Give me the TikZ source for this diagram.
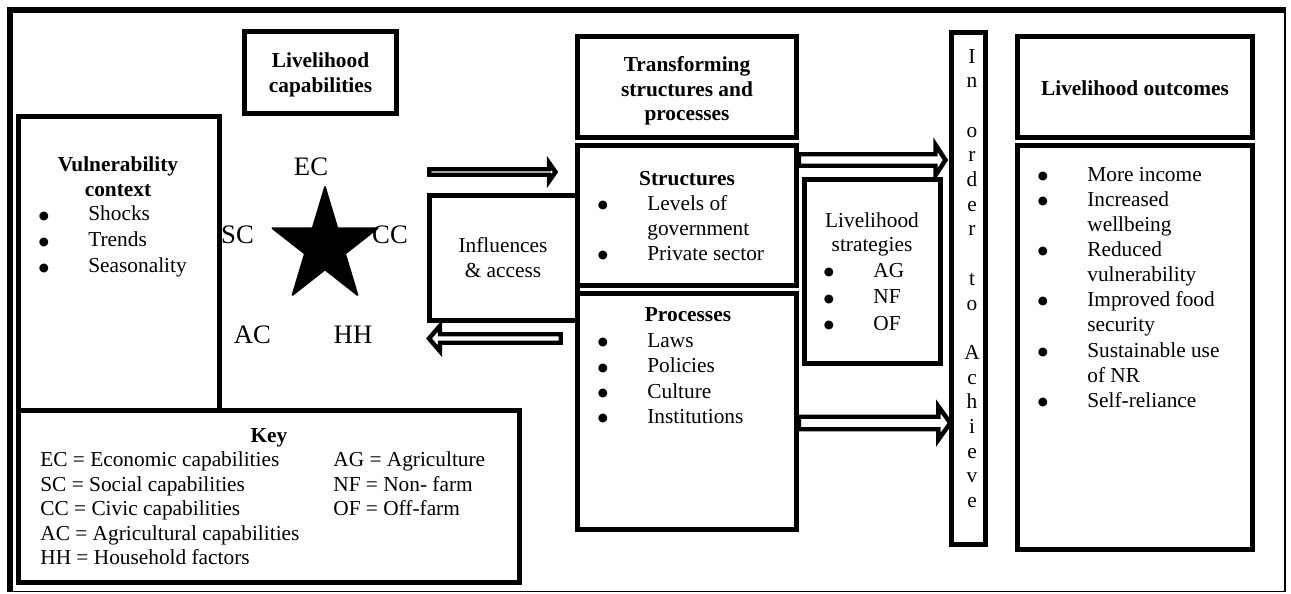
\documentclass[tikz,border=0pt]{standalone}
\usepackage{fontspec}
\setmainfont{Liberation Serif}
\newfontfamily\dejavu{DejaVu Sans}
\usetikzlibrary{fit,calc}
\tikzset{
  box/.style={draw, line width=2.8pt, inner sep=0pt},
  txt/.style={inner sep=0pt, font=\fontsize{12}{13.9}\selectfont},
  btxt/.style={txt, font=\fontsize{12}{13.9}\selectfont\bfseries},
  bul/.style={inner sep=0pt, font=\dejavu\fontsize{6.5}{7}\selectfont},
  lab/.style={inner sep=0pt, font=\fontsize{15}{18}\selectfont},
  blk/.style={draw, fill=white, line width=2.5pt, line join=miter},
}
% bullet item: name, bullet x, text x, baseline y, text
\newcommand\itm[5]{\node[bul,anchor=base] (#1b) at (#2,{#4-1.5}) {●}; \node[txt,anchor=base west] (#1) at (#3,#4) {#5};}
% block arrow: tail, tip, shaft half, head half, signed head length (px)
\newcommand\blockarrow[5]{%
  \draw[blk] let \p1=(#1), \p2=(#2) in
    (\x1,{\y2+(#3)*0.5625pt}) -- ({\x2-(#5)*0.5625pt},{\y2+(#3)*0.5625pt}) --
    ({\x2-(#5)*0.5625pt},{\y2+(#4)*0.5625pt}) -- (\x2,\y2) --
    ({\x2-(#5)*0.5625pt},{\y2-(#4)*0.5625pt}) -- ({\x2-(#5)*0.5625pt},{\y2-(#3)*0.5625pt}) --
    (\x1,{\y2-(#3)*0.5625pt}) -- cycle;}
\begin{document}
\begin{tikzpicture}[x=0.5625pt,y=-0.5625pt]
\useasboundingbox (0,0) rectangle (1291,593);
% outer frame
\draw[line width=3.4pt] (7,10) -- (1286,10);
\draw[line width=3.4pt] (10,7) -- (10,592);
\draw[line width=0.6pt] (1285,10) -- (1285,591.5) -- (10,591.5);

% boxes
\node[box, fit={(244.5,31.5) (396.5,113.5)}] (capbox) {};
\node[box, fit={(18.5,116.5) (219.5,410.5)}] (vulnbox) {};
\node[box, fit={(18.5,410.5) (519.5,582.5)}] (keybox) {};
\node[box, fit={(577.5,36.5) (796.5,137.5)}] (transbox) {};
\node[box, fit={(577.5,145.5) (796.5,285.5)}] (structbox) {};
\node[box, fit={(577.5,293.5) (796.5,529.5)}] (procbox) {};
\node[box, fit={(429.5,195.5) (577.5,320.5)}] (inflbox) {};
\node[box, fit={(804.5,179.5) (940.5,363.5)}] (stratbox) {};
\node[box, fit={(951.5,32.5) (985.5,544.5)}] (orderbox) {};
\node[box, fit={(1017.5,36.5) (1252.5,137.5)}] (outtop) {};
\node[box, fit={(1017.5,145.5) (1252.5,549.5)}] (outbot) {};

% livelihood capabilities
\node[btxt,anchor=base] (cap1) at (320.5,67.5) {Livelihood};
\node[btxt,anchor=base] (cap2) at (320.5,92) {capabilities};

% vulnerability
\node[btxt,anchor=base] (vt1) at (118,171) {Vulnerability};
\node[btxt,anchor=base] (vt2) at (118,196) {context};
\itm{v1}{44}{88}{220.5}{Shocks}
\itm{v2}{44}{88}{246.5}{Trends}
\itm{v3}{44}{88}{272.5}{Seasonality}

% star
\fill[line join=round, draw, line width=1pt]
  (325,187) -- (337.4,228.3) -- (377.6,228.2) -- (345.1,253.7) -- (357.5,295) --
  (325,269.5) -- (292.5,295) -- (304.9,253.7) -- (272.4,228.2) -- (312.6,228.3) -- cycle;
\node[lab,anchor=base] (ec) at (311,175) {EC};
\node[lab,anchor=base] (sc) at (237.5,243) {SC};
\node[lab,anchor=base] (cc) at (390,243) {CC};
\node[lab,anchor=base] (ac) at (252.5,343) {AC};
\node[lab,anchor=base] (hh) at (353,343) {HH};

% influences
\node[txt,anchor=base] (inf1) at (503,252) {Influences};
\node[txt,anchor=base] (inf2) at (503,277) {\& access};

% transforming
\node[btxt,anchor=base] (tr1) at (687,71) {Transforming};
\node[btxt,anchor=base] (tr2) at (687,96) {structures and};
\node[btxt,anchor=base] (tr3) at (687,120) {processes};

% structures
\node[btxt,anchor=base] (st0) at (687,185) {Structures};
\itm{s1}{603}{647}{210}{Levels of}
\node[txt,anchor=base west] (s2) at (647,235) {government};
\itm{s3}{603}{647}{260}{Private sector}

% processes
\node[btxt,anchor=base] (pr0) at (688,321) {Processes};
\itm{p1}{603}{647}{347}{Laws}
\itm{p2}{603}{647}{372.5}{Policies}
\itm{p3}{603}{647}{398}{Culture}
\itm{p4}{603}{647}{423}{Institutions}

% strategies
\node[txt,anchor=base] (ls1) at (872,227) {Livelihood};
\node[txt,anchor=base] (ls2) at (872,251) {strategies};
\itm{g1}{829}{873}{277}{AG}
\itm{g2}{829}{873}{303.5}{NF}
\itm{g3}{829}{873}{330}{OF}

% in order to achieve
\foreach \ch/\k in {I/0,n/1,o/3,r/4,d/5,e/6,r/7,t/9,o/10,A/12,c/13,h/14,i/15,e/16,v/17,e/18}
  \node[txt,anchor=base] (ord\k) at (972,{63+24.7*\k}) {\ch};

% outcomes
\node[btxt,anchor=base] (lo) at (1135,95) {Livelihood outcomes};
\itm{o1}{1043}{1087}{181}{More income}
\itm{o2}{1043}{1087}{206}{Increased}
\node[txt,anchor=base west] (o2b2) at (1087,231) {wellbeing};
\itm{o3}{1043}{1087}{256}{Reduced}
\node[txt,anchor=base west] (o3b2) at (1087,281) {vulnerability};
\itm{o4}{1043}{1087}{306}{Improved food}
\node[txt,anchor=base west] (o4b2) at (1087,331) {security};
\itm{o5}{1043}{1087}{357}{Sustainable use}
\node[txt,anchor=base west] (o5b2) at (1087,382) {of NR};
\itm{o6}{1043}{1087}{407}{Self-reliance}

% key
\node[btxt,anchor=base] (key) at (269,442) {Key};
\node[txt,anchor=base west] (k1) at (40,466.5) {EC = Economic capabilities};
\node[txt,anchor=base west] (k2) at (40,491) {SC = Social capabilities};
\node[txt,anchor=base west] (k3) at (40,515.5) {CC = Civic capabilities};
\node[txt,anchor=base west] (k4) at (40,540) {AC = Agricultural capabilities};
\node[txt,anchor=base west] (k5) at (40,564.5) {HH = Household factors};
\node[txt,anchor=base west] (k6) at (333,466.5) {AG = Agriculture};
\node[txt,anchor=base west] (k7) at (333,491) {NF = Non- farm};
\node[txt,anchor=base west] (k8) at (333,515.5) {OF = Off-farm};

% arrows
\coordinate (a1t) at (429.25,172);
\coordinate (a1h) at (555.5,172);
\coordinate (a2t) at (560.75,338.5);
\coordinate (a2h) at (429,338.5);
\coordinate (a3t) at (structbox.east |- 0,160);
\coordinate (a3h) at (945.5,160);
\coordinate (a4t) at (procbox.east |- 0,423);
\coordinate (a4h) at (950.3,423);
\blockarrow{a1t}{a1h}{2.75}{9.25}{6.5}
\blockarrow{a2t}{a2h}{4.25}{12.75}{-11}
\blockarrow{a3t}{a3h}{5.75}{15.25}{10}
\blockarrow{a4t}{a4h}{6.25}{16.75}{12}
\end{tikzpicture}
\end{document}
